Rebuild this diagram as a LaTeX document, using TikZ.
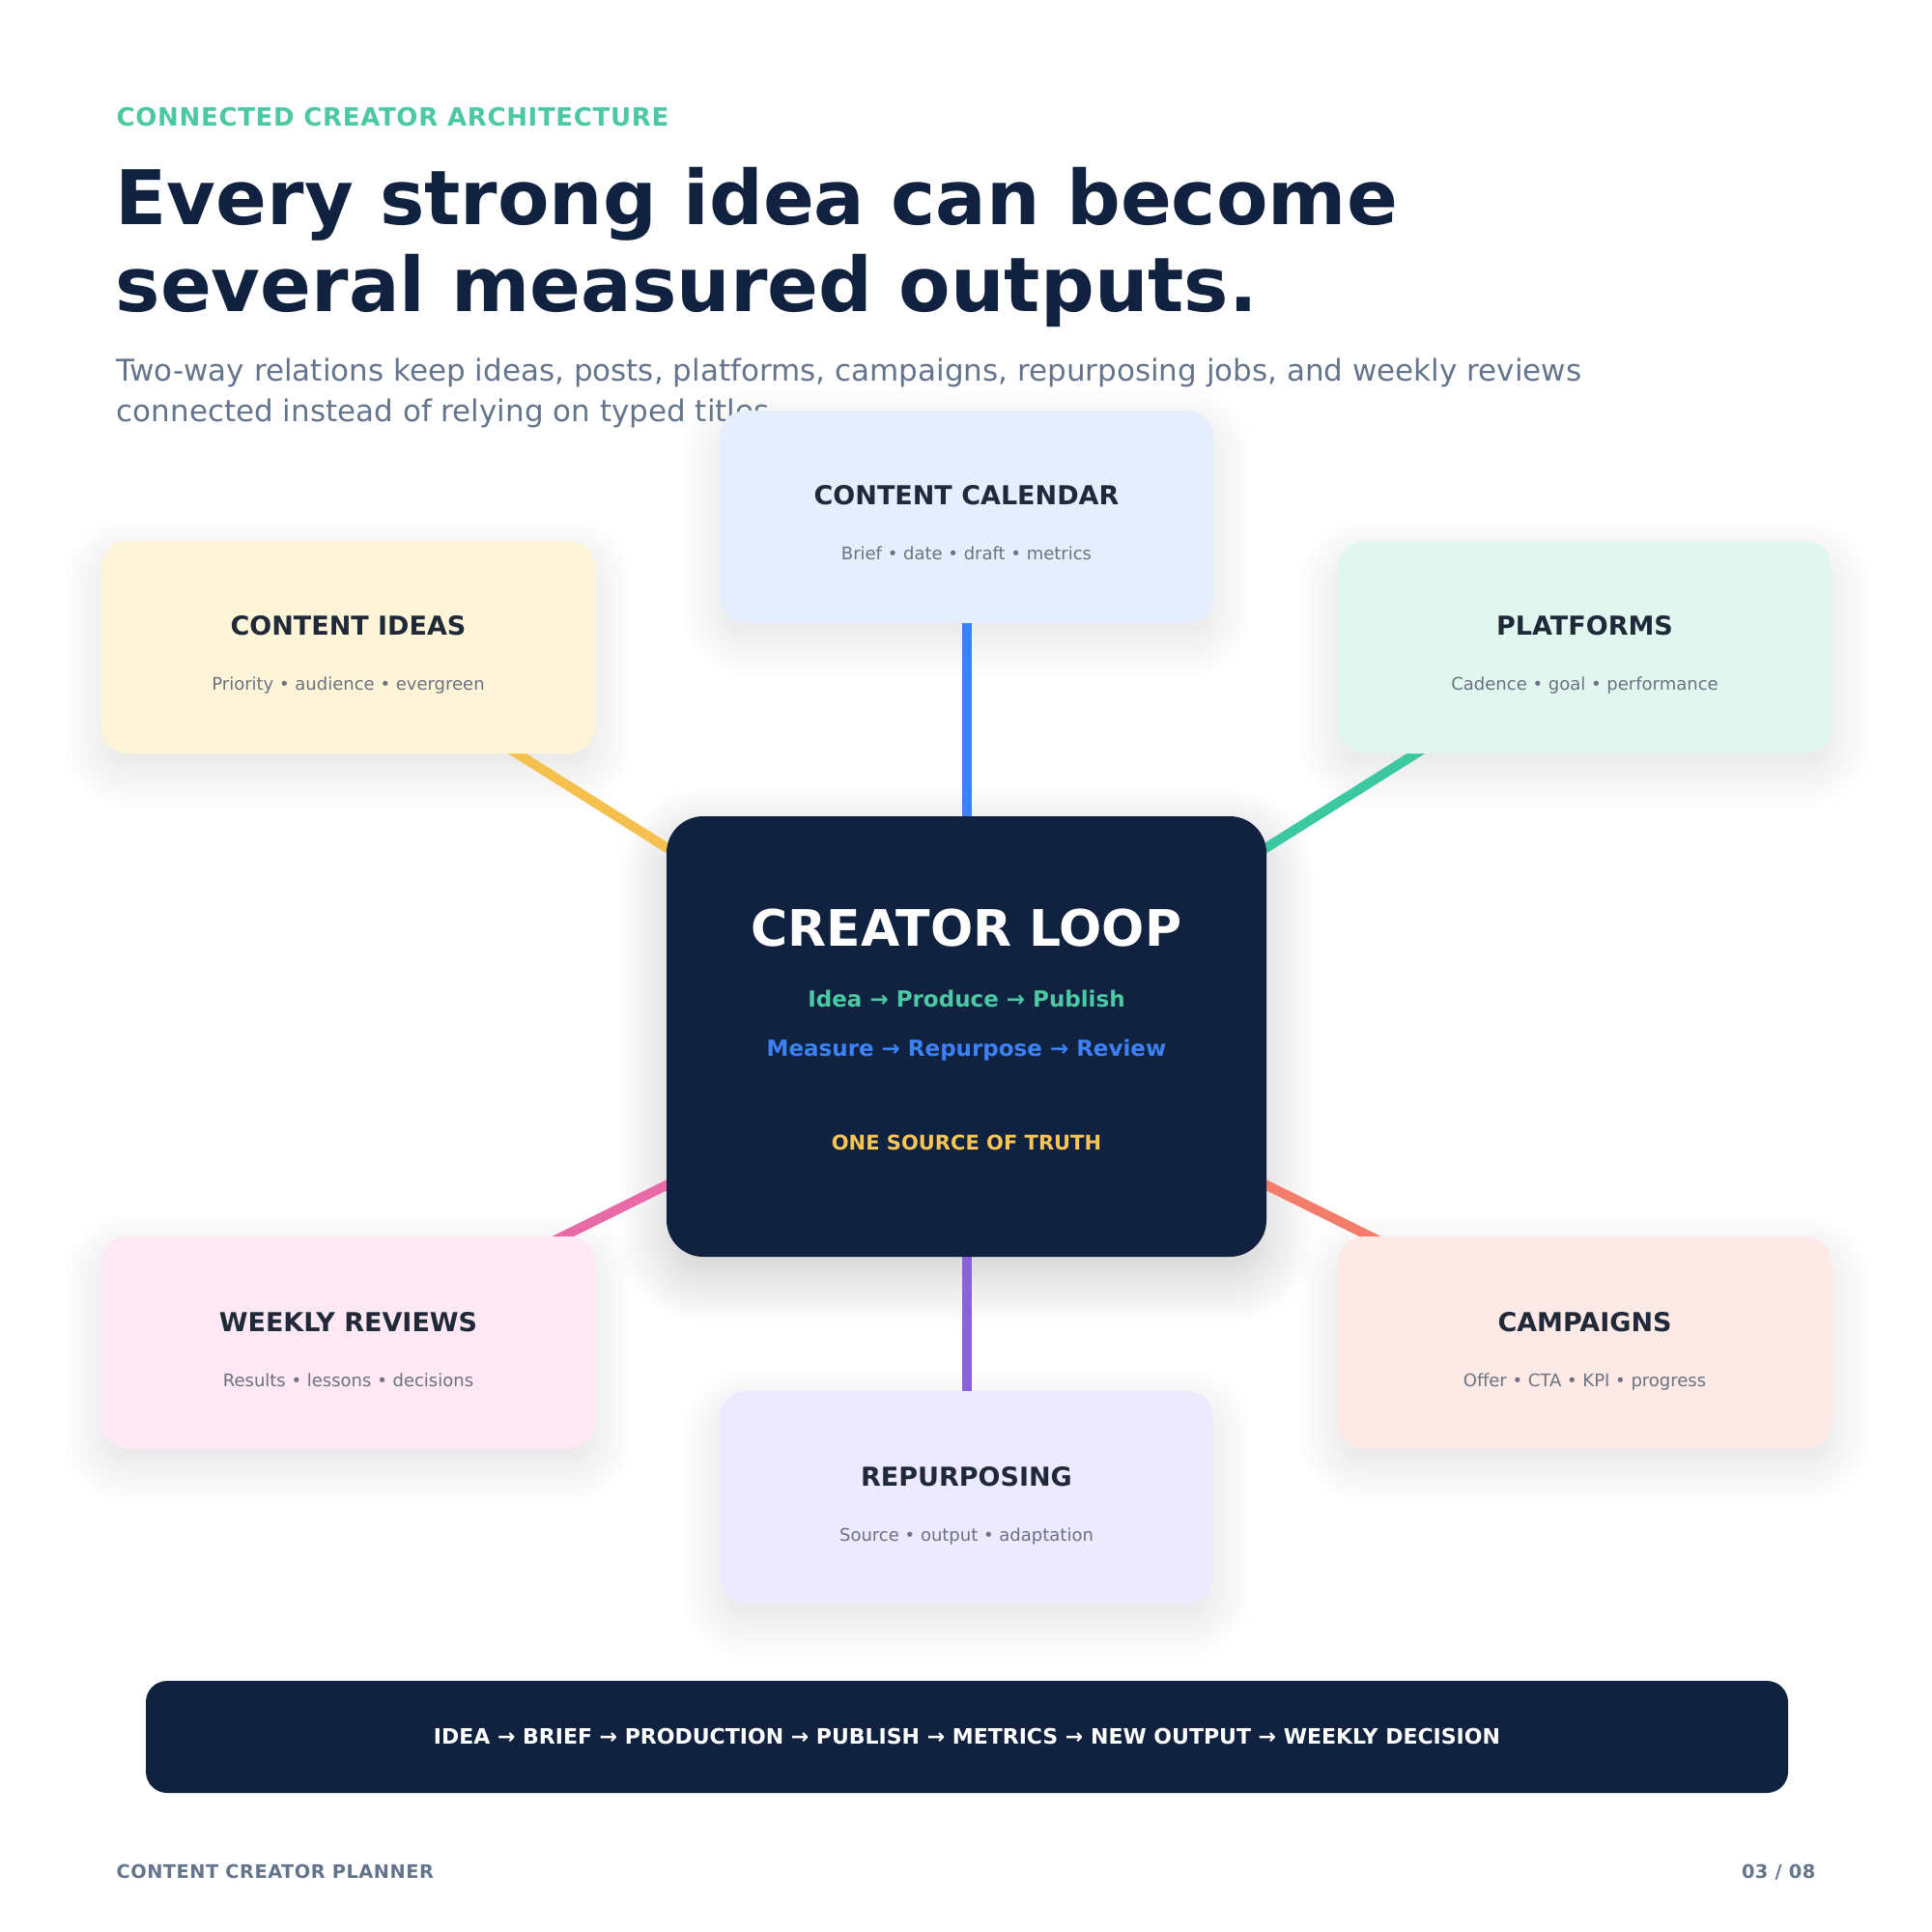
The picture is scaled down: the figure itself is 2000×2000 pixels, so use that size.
\documentclass[tikz,border=0pt]{standalone}
\usepackage{fontspec}
\setmainfont{DejaVu Sans}
\usetikzlibrary{shadows.blur}
\definecolor{navy}{HTML}{10223F}
\definecolor{mint}{HTML}{4CC9A4}
\definecolor{slate}{HTML}{64748B}
\definecolor{ink}{HTML}{1F2937}
\definecolor{muted}{HTML}{6B7280}
\definecolor{ideafill}{HTML}{FEF5D8}
\definecolor{calfill}{HTML}{E5EEFD}
\definecolor{platfill}{HTML}{E0F6EE}
\definecolor{reviewfill}{HTML}{FDE8F3}
\definecolor{campfill}{HTML}{FDE9E5}
\definecolor{repfill}{HTML}{EDE9FE}
\definecolor{idealine}{HTML}{F5C04E}
\definecolor{calline}{HTML}{3B82F6}
\definecolor{platline}{HTML}{3CC8A0}
\definecolor{reviewline}{HTML}{E86AA6}
\definecolor{campline}{HTML}{F47C6A}
\definecolor{repline}{HTML}{8B62DB}
\definecolor{loopgold}{HTML}{F9C555}
\pgfdeclarelayer{paperlayer}
\pgfdeclarelayer{shadowlayer}
\pgfdeclarelayer{linklayer}
\pgfsetlayers{paperlayer,shadowlayer,linklayer,main}

\begin{document}
\begin{tikzpicture}[
    x=0.3pt, y=-0.3pt,
    card/.style={rectangle,rounded corners=8.1pt,minimum width=153.3pt,minimum height=66pt,inner sep=0pt},
    hubbox/.style={rectangle,rounded corners=11.4pt,fill=navy,minimum width=186.3pt,minimum height=136.8pt,inner sep=0pt},
    flowbar/.style={rectangle,rounded corners=6.6pt,fill=navy,minimum width=510pt,minimum height=34.8pt,inner sep=0pt},
    cardtitle/.style={anchor=base,inner sep=0pt,text=ink,font=\bfseries\fontsize{8.1pt}{10pt}\selectfont},
    cardnote/.style={anchor=base,inner sep=0pt,text=muted,font=\fontsize{5.4pt}{7pt}\selectfont},
    headline/.style={anchor=base west,inner sep=0pt,text=navy,font=\bfseries\fontsize{23.4pt}{27pt}\selectfont},
    subline/.style={anchor=base west,inner sep=0pt,text=slate,font=\fontsize{9.3pt}{12.6pt}\selectfont},
    footnote/.style={inner sep=0pt,text=slate,font=\bfseries\fontsize{5.8pt}{7pt}\selectfont\addfontfeatures{LetterSpace=2.6}},
    link/.style={line width=3pt},
    softshadow/.style={blur shadow={shadow xshift=0pt,shadow yshift=-5pt,shadow blur radius=12pt,shadow blur steps=14,shadow opacity=11}},
    hubshadow/.style={blur shadow={shadow xshift=0pt,shadow yshift=-6pt,shadow blur radius=15pt,shadow blur steps=16,shadow opacity=20}}
]
    \useasboundingbox (0,0) rectangle (2000,2000);
    \begin{pgfonlayer}{paperlayer}
        \fill[white] (0,0) rectangle (2000,2000);
    \end{pgfonlayer}

    % Header
    \node[anchor=base west,inner sep=0pt,text=mint,font=\bfseries\fontsize{7.8pt}{9pt}\selectfont\addfontfeatures{LetterSpace=2.6}] (eyebrow) at (120,131) {CONNECTED CREATOR ARCHITECTURE};
    \node[headline] (title1) at (119,233) {Every strong idea can become};
    \node[headline] (title2) at (119,323) {several measured outputs.};
    \node[subline] (sub1) at (120,395) {Two-way relations keep ideas, posts, platforms, campaigns, repurposing jobs, and weekly reviews};
    \node[subline] (sub2) at (120,437) {connected instead of relying on typed titles.};

    % Cards around the loop
    \node[card,fill=ideafill] (ideas) at (360.5,670) {};
    \node[card,fill=calfill] (calendar) at (1000.5,535) {};
    \node[card,fill=platfill] (platforms) at (1640.5,670) {};
    \node[card,fill=reviewfill] (reviews) at (360.5,1390) {};
    \node[card,fill=campfill] (campaigns) at (1640.5,1390) {};
    \node[card,fill=repfill] (repurposing) at (1000.5,1550) {};

    \node[cardtitle] at ([yshift=3.6pt]ideas.center) {CONTENT IDEAS};
    \node[cardnote] at ([yshift=-13.5pt]ideas.center) {Priority • audience • evergreen};
    \node[cardtitle] at ([yshift=3.6pt]calendar.center) {CONTENT CALENDAR};
    \node[cardnote] at ([yshift=-13.5pt]calendar.center) {Brief • date • draft • metrics};
    \node[cardtitle] at ([yshift=3.6pt]platforms.center) {PLATFORMS};
    \node[cardnote] at ([yshift=-13.5pt]platforms.center) {Cadence • goal • performance};
    \node[cardtitle] at ([yshift=3.6pt]reviews.center) {WEEKLY REVIEWS};
    \node[cardnote] at ([yshift=-13.5pt]reviews.center) {Results • lessons • decisions};
    \node[cardtitle] at ([yshift=3.6pt]campaigns.center) {CAMPAIGNS};
    \node[cardnote] at ([yshift=-13.5pt]campaigns.center) {Offer • CTA • KPI • progress};
    \node[cardtitle] at ([yshift=3.6pt]repurposing.center) {REPURPOSING};
    \node[cardnote] at ([yshift=-13.5pt]repurposing.center) {Source • output • adaptation};

    % Central loop
    \node[hubbox] (hub) at (1000.5,1073) {};
    \node[anchor=base,inner sep=0pt,text=white,font=\bfseries\fontsize{15.6pt}{18pt}\selectfont] at ([yshift=28.2pt]hub.center) {CREATOR LOOP};
    \node[anchor=base,inner sep=0pt,text=mint,font=\bfseries\fontsize{6.9pt}{9pt}\selectfont] at ([yshift=9.3pt]hub.center) {Idea → Produce → Publish};
    \node[anchor=base,inner sep=0pt,text=calline,font=\bfseries\fontsize{6.9pt}{9pt}\selectfont] at ([yshift=-6pt]hub.center) {Measure → Repurpose → Review};
    \node[anchor=base,inner sep=0pt,text=loopgold,font=\bfseries\fontsize{6.3pt}{8pt}\selectfont] at ([yshift=-35.1pt]hub.center) {ONE SOURCE OF TRUTH};

    % Bottom flow
    \node[flowbar] (flow) at (1001,1798) {};
    \node[anchor=base,inner sep=0pt,text=white,font=\bfseries\fontsize{6.6pt}{8pt}\selectfont] at ([yshift=-2.1pt]flow.center) {IDEA → BRIEF → PRODUCTION → PUBLISH → METRICS → NEW OUTPUT → WEEKLY DECISION};

    % Footer
    \node[footnote,anchor=base west] (footleft) at (120,1944) {CONTENT CREATOR PLANNER};
    \node[footnote,anchor=base east] (footright) at (1880,1944) {03 / 08};

    % Shadows and links behind the boxes
    \begin{pgfonlayer}{shadowlayer}
        % off-page dummy: the first blur shadow comes out black
        \path[softshadow] (-900,-900) rectangle (-800,-800);
        \foreach \c in {ideas,calendar,platforms,reviews,campaigns,repurposing}
            \path[softshadow,rounded corners=8.1pt] (\c.north west) rectangle (\c.south east);
        \path[hubshadow,rounded corners=11.4pt] (hub.north west) rectangle (hub.south east);
    \end{pgfonlayer}
    \begin{pgfonlayer}{linklayer}
        \draw[link,idealine] (hub.center) -- (ideas.center);
        \draw[link,calline] (hub.center) -- (calendar.center);
        \draw[link,platline] (hub.center) -- (platforms.center);
        \draw[link,reviewline] (hub.center) -- (reviews.center);
        \draw[link,campline] (hub.center) -- (campaigns.center);
        \draw[link,repline] (hub.center) -- (repurposing.center);
    \end{pgfonlayer}
\end{tikzpicture}
\end{document}
